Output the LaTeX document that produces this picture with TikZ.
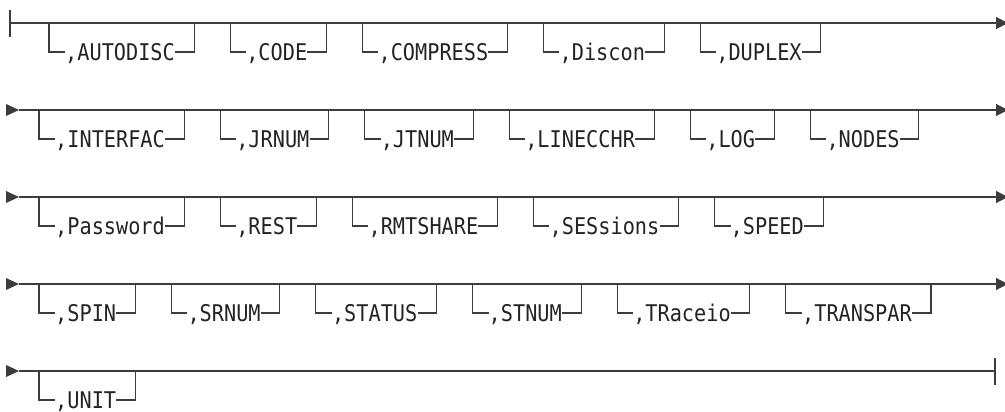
\documentclass[tikz,border=0pt]{standalone}
\usepackage{fontspec}
\usepackage{xcolor}
\usepackage{tikz}
\usetikzlibrary{arrows.meta, positioning}
\newfontfamily\railfont[FakeStretch=0.88]{DejaVu Sans Mono}
\definecolor{railgray}{RGB}{60,60,60}
\definecolor{railtext}{RGB}{35,35,35}

\begin{document}
\begin{tikzpicture}[
  x=1pt, y=-1pt,
  node distance=71pt,
  rail/.style={draw=railgray, line width=1.1pt},
  opt/.style={font=\railfont\fontsize{23pt}{27pt}\selectfont, text=railtext,
              inner sep=0pt, text height=16.5pt, text depth=0pt},
  tip/.style={-{Triangle[length=12pt, width=12pt]}}
]
\useasboundingbox (0,0) rectangle (1005,412);

% main lines
\coordinate (s1) at (10,23);    \coordinate (e1) at (1008,23);
\coordinate (s2) at (19,110);   \coordinate (e2) at (1008,110);
\coordinate (s3) at (19,197);   \coordinate (e3) at (1008,197);
\coordinate (s4) at (19,284);   \coordinate (e4) at (1008,284);
\coordinate (s5) at (19,371);   \coordinate (e5) at (995,371);

\draw[rail] (s1) ++(0,-13) -- ++(0,27);
\foreach \r in {1,...,4} \draw[rail, tip] (s\r) -- (e\r);
\draw[rail] (s5) -- (e5) ++(0,-13) -- ++(0,27);
\foreach \r in {2,...,5} \fill[railgray] (s\r) -- ++(-13,-6) -- ++(0,12) -- cycle;

% options
\node[opt, anchor=west] (autodisc) at (65,52) {,AUTODISC};
\node[opt, right=of autodisc] (code) {,CODE};
\node[opt, right=of code] (compress) {,COMPRESS};
\node[opt, right=of compress] (discon) {,Discon};
\node[opt, right=of discon] (duplex) {,DUPLEX};

\node[opt, anchor=west] (interfac) at (55,139) {,INTERFAC};
\node[opt, right=of interfac] (jrnum) {,JRNUM};
\node[opt, right=of jrnum] (jtnum) {,JTNUM};
\node[opt, right=of jtnum] (lineccha) {,LINECCHR};
\node[opt, right=of lineccha] (log) {,LOG};
\node[opt, right=of log] (nodes) {,NODES};

\node[opt, anchor=west] (password) at (55,226) {,Password};
\node[opt, right=of password] (rest) {,REST};
\node[opt, right=of rest] (rmtshare) {,RMTSHARE};
\node[opt, right=of rmtshare] (sessions) {,SESsions};
\node[opt, right=of sessions] (speed) {,SPEED};

\node[opt, anchor=west] (spin) at (55,313) {,SPIN};
\node[opt, right=of spin] (srnum) {,SRNUM};
\node[opt, right=of srnum] (status) {,STATUS};
\node[opt, right=of status] (stnum) {,STNUM};
\node[opt, right=of stnum] (traceio) {,TRaceio};
\node[opt, right=of traceio] (transpar) {,TRANSPAR};

\node[opt, anchor=west] (unit) at (55,400) {,UNIT};

% optional branches
\foreach \n in {autodisc,code,compress,discon,duplex,
                interfac,jrnum,jtnum,lineccha,log,nodes,
                password,rest,rmtshare,sessions,speed,
                spin,srnum,status,stnum,traceio,transpar,unit} {
  \draw[rail] (\n.west) -- ++(-16,0) -- ++(0,-29);
  \draw[rail] (\n.east) -- ++(19,0) -- ++(0,-29);
}
\end{tikzpicture}
\end{document}
